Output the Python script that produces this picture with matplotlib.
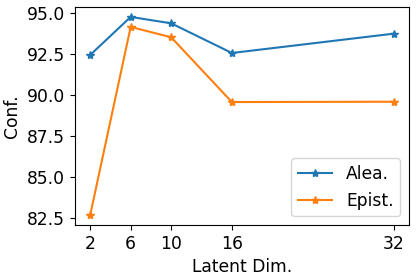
import matplotlib
matplotlib.use("Agg")
import matplotlib.pyplot as plt

latent_dim = [2, 6, 10, 16, 32]
alea = [92.46, 94.78, 94.39, 92.58, 93.76]
epist = [82.70, 94.17, 93.54, 89.59, 89.61]
conf_ticks = [82.5, 85.0, 87.5, 90.0, 92.5, 95.0]

plt.rcParams['font.size'] = 12.3

fig = plt.figure(figsize=(4.16, 2.79), dpi=100)
ax = fig.add_axes([75/416, 1-225/279, (409-75)/416, (225-7)/279])
ax.plot(latent_dim, alea, marker='*', label='Alea.')
ax.plot(latent_dim, epist, marker='*', label='Epist.')
ax.set_xticks(latent_dim)
ax.set_yticks(conf_ticks)
ax.set_xlabel('Latent Dim.')
ax.set_ylabel('Conf.')
ax.legend(loc='lower right')
fig.savefig('out.png', dpi=100)
